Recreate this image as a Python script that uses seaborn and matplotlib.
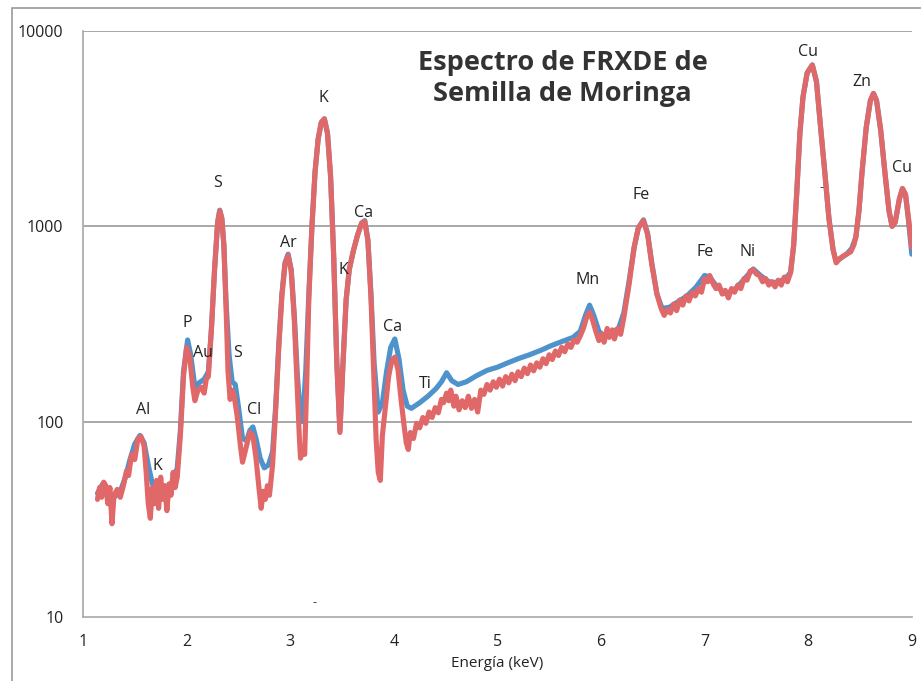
import numpy as np
import pandas as pd
import matplotlib
matplotlib.use("Agg")
import matplotlib.pyplot as plt
from matplotlib.patches import Rectangle
import seaborn as sns

# Ajuste (azul): energia en keV y cuentas
ajuste_e = [1.14, 1.19, 1.24, 1.30, 1.36, 1.41, 1.45, 1.50, 1.55, 1.59, 1.63, 1.67, 1.72, 1.77, 1.82,
            1.87, 1.91, 1.94, 1.97, 2.01, 2.04, 2.08, 2.12, 2.17, 2.21, 2.24, 2.27, 2.30, 2.32, 2.34,
            2.36, 2.38, 2.41, 2.44, 2.47, 2.50, 2.54, 2.58, 2.61, 2.64, 2.67, 2.71, 2.75, 2.79, 2.83,
            2.86, 2.89, 2.92, 2.95, 2.98, 3.01, 3.04, 3.07, 3.10, 3.12, 3.15, 3.18, 3.21, 3.24, 3.27,
            3.30, 3.33, 3.36, 3.39, 3.42, 3.45, 3.48, 3.51, 3.54, 3.57, 3.61, 3.65, 3.69, 3.72, 3.75,
            3.78, 3.81, 3.85, 3.89, 3.93, 3.97, 4.01, 4.05, 4.09, 4.13, 4.17, 4.25, 4.33, 4.41, 4.46,
            4.51, 4.56, 4.62, 4.70, 4.80, 4.90, 5.00, 5.10, 5.20, 5.31, 5.42, 5.52, 5.63, 5.73, 5.80,
            5.85, 5.89, 5.93, 5.98, 6.03, 6.10, 6.17, 6.22, 6.27, 6.32, 6.36, 6.41, 6.45, 6.49, 6.54,
            6.59, 6.66, 6.74, 6.83, 6.92, 7.00, 7.05, 7.12, 7.21, 7.31, 7.40, 7.47, 7.54, 7.62, 7.70,
            7.78, 7.83, 7.86, 7.89, 7.92, 7.95, 7.99, 8.04, 8.08, 8.12, 8.16, 8.20, 8.24, 8.27, 8.32,
            8.37, 8.42, 8.46, 8.49, 8.52, 8.56, 8.60, 8.63, 8.66, 8.70, 8.74, 8.78, 8.81, 8.84, 8.88,
            8.91, 8.94, 8.97, 9.00]
ajuste_c = [43, 48, 44, 41, 44, 52, 63, 77, 85, 78, 60, 48, 46, 47, 45,
            50, 58, 90, 180, 262, 220, 150, 158, 165, 180, 300, 600, 1050, 1210, 1100,
            800, 420, 220, 160, 155, 120, 82, 80, 90, 94, 82, 65, 58, 60, 70,
            120, 250, 450, 650, 720, 600, 350, 170, 105, 100, 180, 450, 1000, 1900, 2800,
            3400, 3550, 3000, 1800, 700, 200, 90, 200, 420, 600, 750, 900, 1040, 1070, 850,
            450, 200, 112, 125, 180, 240, 265, 210, 145, 120, 117, 125, 135, 148, 160,
            178, 162, 155, 160, 172, 183, 190, 200, 210, 220, 232, 245, 258, 270, 290,
            350, 395, 350, 290, 275, 285, 300, 360, 520, 780, 980, 1080, 920, 650, 450,
            380, 385, 410, 440, 490, 560, 550, 490, 450, 485, 550, 605, 560, 520, 515,
            540, 580, 800, 1500, 3000, 4600, 6100, 6700, 5500, 3200, 1900, 1100, 760, 660, 690,
            720, 770, 880, 1200, 1900, 3200, 4400, 4790, 4400, 3100, 1900, 1200, 1000, 1050, 1380,
            1560, 1450, 1050, 720]

# Espectro medido (rojo)
medido_e = [1.14, 1.16, 1.18, 1.20, 1.22, 1.24, 1.26, 1.28, 1.30, 1.33, 1.36, 1.39, 1.42, 1.44, 1.47,
            1.50, 1.53, 1.56, 1.59, 1.61, 1.63, 1.65, 1.67, 1.69, 1.71, 1.73, 1.75, 1.77, 1.79, 1.81,
            1.83, 1.85, 1.87, 1.89, 1.91, 1.94, 1.97, 2.00, 2.03, 2.06, 2.08, 2.11, 2.14, 2.17, 2.19,
            2.21, 2.24, 2.27, 2.30, 2.32, 2.34, 2.36, 2.38, 2.40, 2.42, 2.44, 2.46, 2.49, 2.52, 2.54,
            2.57, 2.61, 2.64, 2.67, 2.70, 2.72, 2.74, 2.76, 2.78, 2.80, 2.83, 2.86, 2.89, 2.92, 2.95,
            2.98, 3.01, 3.04, 3.07, 3.09, 3.10, 3.12, 3.14, 3.16, 3.18, 3.21, 3.24, 3.27, 3.30, 3.33,
            3.36, 3.39, 3.42, 3.45, 3.48, 3.51, 3.54, 3.57, 3.61, 3.65, 3.69, 3.72, 3.75, 3.78, 3.81,
            3.83, 3.85, 3.87, 3.89, 3.92, 3.95, 3.98, 4.01, 4.04, 4.07, 4.10, 4.12, 4.14, 4.16, 4.19,
            4.22, 4.25, 4.28, 4.31, 4.34, 4.37, 4.40, 4.43, 4.46, 4.48, 4.51, 4.53, 4.55, 4.58, 4.60,
            4.63, 4.66, 4.69, 4.72, 4.75, 4.78, 4.81, 4.84, 4.87, 4.90, 4.93, 4.96, 4.99, 5.02, 5.05,
            5.08, 5.11, 5.14, 5.17, 5.20, 5.23, 5.26, 5.29, 5.32, 5.35, 5.38, 5.41, 5.44, 5.47, 5.50,
            5.53, 5.56, 5.59, 5.62, 5.65, 5.68, 5.71, 5.74, 5.77, 5.80, 5.83, 5.86, 5.89, 5.92, 5.95,
            5.98, 6.01, 6.03, 6.06, 6.08, 6.11, 6.13, 6.16, 6.19, 6.22, 6.27, 6.32, 6.36, 6.41, 6.45,
            6.49, 6.54, 6.58, 6.61, 6.64, 6.67, 6.70, 6.73, 6.76, 6.79, 6.82, 6.85, 6.88, 6.91, 6.94,
            6.97, 7.00, 7.03, 7.05, 7.08, 7.11, 7.14, 7.17, 7.20, 7.23, 7.26, 7.29, 7.32, 7.35, 7.38,
            7.41, 7.44, 7.47, 7.50, 7.53, 7.56, 7.59, 7.62, 7.65, 7.68, 7.71, 7.74, 7.77, 7.80, 7.83,
            7.86, 7.89, 7.92, 7.95, 7.99, 8.04, 8.08, 8.12, 8.16, 8.20, 8.24, 8.27, 8.30, 8.33, 8.37,
            8.41, 8.44, 8.46, 8.49, 8.52, 8.56, 8.60, 8.63, 8.66, 8.70, 8.74, 8.78, 8.81, 8.84, 8.88,
            8.91, 8.94, 8.97, 9.00]
medido_c = [40, 46, 41, 49, 47, 38, 46, 30, 42, 45, 41, 47, 56, 53, 68,
            64, 82, 84, 75, 55, 38, 32, 46, 38, 50, 36, 52, 40, 47, 35,
            48, 42, 55, 46, 52, 85, 170, 240, 215, 150, 128, 145, 150, 140, 165,
            170, 300, 600, 1050, 1200, 1100, 800, 400, 180, 130, 145, 135, 105, 75, 62,
            72, 88, 85, 65, 45, 36, 44, 40, 47, 42, 60, 115, 240, 440, 640,
            710, 590, 330, 140, 80, 65, 72, 68, 160, 430, 1000, 1900, 2800, 3400, 3550,
            3000, 1800, 700, 200, 88, 200, 420, 600, 750, 900, 1040, 1060, 850, 430, 160,
            80, 55, 50, 85, 120, 170, 205, 214, 185, 130, 95, 78, 72, 88, 82,
            98, 93, 105, 98, 112, 105, 118, 111, 130, 125, 140, 128, 145, 120, 135,
            115, 128, 118, 135, 117, 130, 112, 145, 138, 155, 145, 160, 150, 165, 152,
            170, 158, 175, 162, 180, 170, 188, 176, 195, 182, 200, 190, 210, 198, 220,
            208, 230, 218, 240, 228, 250, 240, 262, 255, 275, 300, 340, 363, 330, 290,
            260, 280, 255, 300, 270, 295, 265, 300, 280, 340, 500, 780, 980, 1070, 910,
            640, 450, 380, 350, 375, 360, 400, 370, 420, 395, 440, 415, 460, 440, 480,
            460, 540, 520, 560, 510, 480, 500, 450, 470, 430, 480, 460, 500, 480, 540,
            530, 590, 600, 570, 560, 520, 540, 500, 520, 490, 530, 500, 550, 520, 580,
            800, 1500, 3000, 4600, 6100, 6700, 5500, 3200, 1900, 1100, 760, 650, 680, 700, 720,
            740, 800, 880, 1200, 1900, 3200, 4400, 4790, 4400, 3100, 1900, 1200, 1000, 1050, 1380,
            1560, 1450, 1080, 780]

# Etiquetas de elementos (energia, cuentas)
elementos = ["Al", "K", "P", "Au", "S", "S", "Cl", "Ar", "K", "K", "Ca", "Ca", "Ti",
             "Mn", "Fe", "Fe", "Ni", "Cu", "Zn", "Cu"]
elem_e = [1.58, 1.72, 2.01, 2.16, 2.30, 2.49, 2.65, 2.98, 3.32, 3.51, 3.71, 3.99, 4.30,
          5.87, 6.39, 7.01, 7.41, 8.00, 8.52, 8.91]
elem_c = [115, 59, 320, 224, 1667, 224, 115, 820, 4540, 597, 1170, 305, 156,
          531, 1445, 738, 738, 7800, 5480, 1990]

df_ajuste = pd.DataFrame({"E": ajuste_e, "cuentas": ajuste_c})
df_medido = pd.DataFrame({"E": medido_e, "cuentas": medido_c})

sns.set_style("white")
plt.rcParams["font.family"] = ["Open Sans", "DejaVu Sans"]

fig = plt.figure(figsize=(9.21, 6.81), dpi=100)
ax = fig.add_axes([0.0901, 0.094, 0.8999, 0.8605])

sns.lineplot(data=df_ajuste, x="E", y="cuentas", ax=ax, color="#4f93cc", lw=3.7)
sns.lineplot(data=df_medido, x="E", y="cuentas", ax=ax, color="#e06868", lw=3.7)

ax.set_yscale("log")
ax.set_xlim(1, 9)
ax.set_ylim(10, 10000)
ax.set_yticks([10, 100, 1000, 10000])
ax.set_yticklabels(["10", "100", "1000", "10000"])
ax.yaxis.set_minor_locator(matplotlib.ticker.NullLocator())
ax.set_xticks(range(1, 10))
for y in [100, 1000, 10000]:
    ax.axhline(y, color="#9a9a9a", lw=1.2, zorder=0)

for s in ["top", "right"]:
    ax.spines[s].set_visible(False)
for s in ["left", "bottom"]:
    ax.spines[s].set_color("#a8a8a8")
    ax.spines[s].set_linewidth(1.2)
ax.tick_params(axis="x", direction="inout", length=7, color="#a8a8a8", pad=9,
               labelsize=11.5, labelcolor="#222222")
ax.tick_params(axis="y", direction="out", length=5, color="#a8a8a8", pad=9,
               labelsize=11.5, labelcolor="#222222")
ax.set_xlabel("Energía (keV)", fontsize=11, color="#222222", labelpad=4)
ax.set_ylabel("")

for nombre, xe, yc in zip(elementos, elem_e, elem_c):
    ax.text(xe, yc, nombre, ha="center", va="center", fontsize=11.5, color="#222222")

ax.text(5.63, 5700, "Espectro de FRXDE de\nSemilla de Moringa", ha="center", va="center",
        fontsize=19.5, fontweight="bold", color="#333333", linespacing=1.25)

# pequeñas marcas presentes en la imagen original
ax.text(3.23, 11.8, "-", ha="center", va="center", fontsize=9, color="#333333")
ax.text(8.13, 1570, "-", ha="center", va="center", fontsize=9, color="#333333")

fig.patches.append(Rectangle((12 / 921, -0.05), 1.2, 1.05 - 8 / 681, transform=fig.transFigure,
                             fill=False, edgecolor="#9a9a9a", lw=1.2))

fig.savefig("out.png", dpi=100)
